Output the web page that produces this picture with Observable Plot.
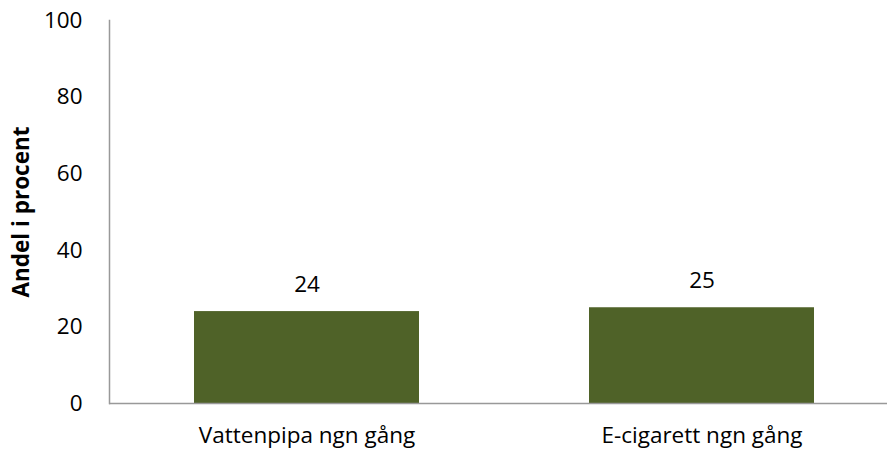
<!DOCTYPE html>
<html>
<head>
<meta charset="utf-8">
<script src="https://cdn.jsdelivr.net/npm/d3@7"></script>
<script src="https://cdn.jsdelivr.net/npm/@observablehq/plot@0.6"></script>
<style>
  html, body { margin: 0; padding: 0; background: #fff; }
  #chart svg { display: block; }
</style>
</head>
<body>
<div id="chart"></div>
<script>
const categories = ["Vattenpipa ngn gång", "E-cigarett ngn gång"];
const values = [24, 25];
const yTicks = [0, 20, 40, 60, 80, 100];
const yLabel = "Andel i procent";

const data = categories.map((c, i) => ({category: c, value: values[i]}));
const font = "'Open Sans', sans-serif";
const fs = 22.5;

const chart = Plot.plot({
  width: 888,
  height: 454,
  marginLeft: 109,
  marginRight: 1,
  marginTop: 20,
  marginBottom: 51,
  style: {fontFamily: font, fontSize: fs + "px", color: "#000", background: "#fff", overflow: "visible"},
  x: {domain: categories, range: [109, 900], paddingInner: 0.43, paddingOuter: 0.215, label: null},
  y: {domain: [0, 100], label: null},
  marks: [
    Plot.barY(data, {x: "category", y: "value", fill: "#4F6228"}),
    Plot.text(data, {x: "category", y: "value", text: d => String(d.value), dy: -27, fontSize: fs, fill: "#000"}),
    Plot.axisY({ticks: yTicks, tickSize: 0, tickPadding: 27, fontSize: fs, label: null}),
    Plot.axisX({tickSize: 0, tickPadding: 24, fontSize: fs, label: null}),
    Plot.ruleY([0], {stroke: "#999", strokeWidth: 1.5}),
    Plot.frame({anchor: "left", stroke: "#999", strokeWidth: 1.5}),
    Plot.text([yLabel], {frameAnchor: "left", textAnchor: "middle", dx: -88, rotate: -90, fontWeight: "bold", fontSize: fs, fill: "#000"})
  ]
});
document.getElementById("chart").appendChild(chart);
</script>
</body>
</html>
